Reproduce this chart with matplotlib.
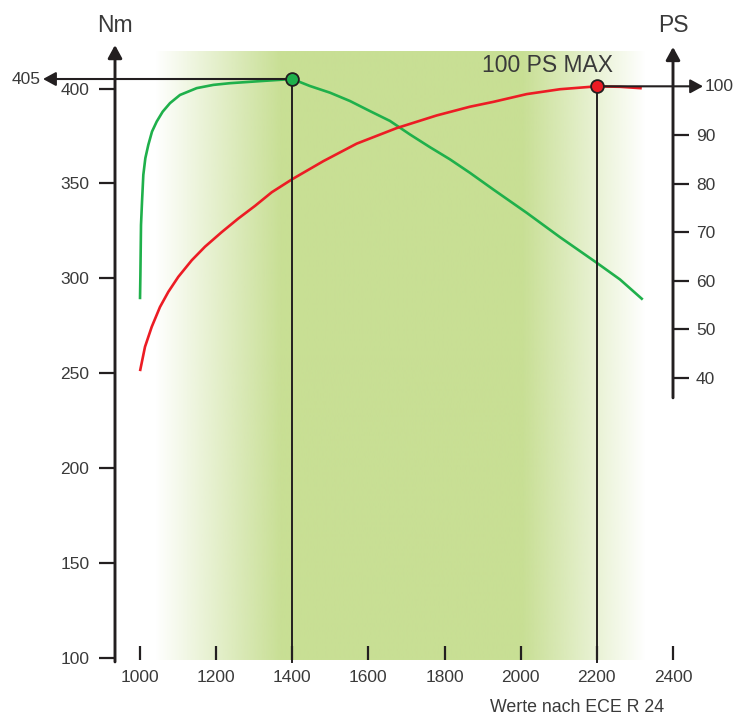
import numpy as np
import matplotlib.pyplot as plt
from matplotlib.colors import to_rgb

# Drehmoment (Nm) ueber Drehzahl
rpm_nm = [1000, 1001, 1002.6, 1005.3, 1008.7, 1014, 1021.8, 1031.5, 1043.9, 1059.6,
          1078.8, 1105, 1149, 1192.6, 1236.4, 1324, 1400, 1446.5, 1499, 1551.6,
          1604, 1656.7, 1709, 1761.5, 1814, 1866.5, 1928, 2015.8, 2103, 2199.6,
          2260.8, 2320.5]
torque = [289, 301.8, 328.1, 340.5, 354.5, 363.3, 370.3, 377.3, 382.6, 387.8,
          392.3, 396.6, 400.2, 401.9, 402.8, 404, 405, 401.3, 397.8, 393.4,
          388.1, 382.9, 375.8, 369.1, 362.7, 355.6, 346.8, 334.5, 321.7, 308.2,
          299.4, 288.8]

# Leistung (PS) ueber Drehzahl
rpm_ps = [1000, 1013.1, 1030.7, 1052.5, 1074.3, 1100.6, 1135.8, 1170.7, 1214.6,
          1258.2, 1302.1, 1346, 1400, 1481.5, 1569, 1674, 1779, 1866.5, 1928,
          2015.8, 2103, 2200, 2261, 2318]
power = [41.4, 46.4, 50.5, 54.6, 57.7, 60.8, 64.2, 67.0, 70.0, 72.8, 75.4, 78.2,
         80.9, 84.6, 88.2, 91.4, 94.0, 95.8, 96.8, 98.4, 99.4, 100, 99.9, 99.6]

x_ticks = [1000, 1200, 1400, 1600, 1800, 2000, 2200, 2400]
nm_ticks = [100, 150, 200, 250, 300, 350, 400]
ps_ticks = [40, 50, 60, 70, 80, 90]

max_torque = (1400, 405)
max_power = (2200, 100)

plt.rcParams['font.family'] = ['Liberation Sans', 'DejaVu Sans']
txt = '#3a3a3a'
ink = '#231f20'
green = '#1fb04b'
red = '#ec1c24'
band = '#c8df94'

fig = plt.figure(figsize=(7.36, 7.18), dpi=100)
ax = fig.add_axes([115/736, 1-660/718, (673-115)/736, 620/718])
ax2 = ax.twinx()

xlim = (934.3, 2400)
nm_lim = (98.95, 425.55)
ps_lim = (-18.04, 109.53)

# gruener Hintergrund mit weichen Raendern
xs = np.linspace(1039, 2326.5, 600)
alpha = np.interp(xs, [1039, 1370, 2003, 2326.5], [0, 1, 1, 0])
img = np.zeros((1, len(xs), 4))
img[0, :, :3] = to_rgb(band)
img[0, :, 3] = alpha
ax.imshow(img, extent=[1039, 2326.5, 97.9, 419.6], aspect='auto',
          interpolation='bilinear', zorder=0)

# Kurven
ax2.plot(rpm_nm, torque, color=green, lw=1.9, transform=ax.transData, zorder=2,
         solid_capstyle='butt', solid_joinstyle='round')
ax2.plot(rpm_ps, power, color=red, lw=1.9, zorder=2, solid_capstyle='butt',
         solid_joinstyle='round')

# Hilfslinien zu den Maxima
ax2.plot([max_torque[0], max_torque[0]], [nm_lim[0] - 1, max_torque[1]], color=ink,
         lw=1.4, transform=ax.transData, zorder=3, clip_on=False)
ax2.plot([max_power[0], max_power[0]], [ps_lim[0] - 0.4, max_power[1]], color=ink,
         lw=1.4, zorder=3, clip_on=False)
arrow = dict(arrowstyle='-|>,head_length=0.55,head_width=0.3', color=ink, lw=1.5,
             shrinkA=0, shrinkB=0, mutation_scale=14)
ax2.annotate('', xy=(745.2, max_torque[1]), xytext=max_torque,
             xycoords=ax.transData, textcoords=ax.transData,
             arrowprops=arrow, annotation_clip=False, zorder=3)
ax2.annotate('', xy=(2478.9, max_power[1]), xytext=max_power,
             arrowprops=arrow, annotation_clip=False, zorder=3)
ax2.plot(*max_torque, 'o', ms=9.2, mfc=green, mec=ink, mew=1.3,
         transform=ax.transData, zorder=4, clip_on=False)
ax2.plot(*max_power, 'o', ms=9.2, mfc=red, mec=ink, mew=1.3, zorder=4, clip_on=False)

# Achsen mit Pfeilen
axis_arrow = dict(arrow, lw=2.1)
ax2.annotate('', xy=(xlim[0], 422.9), xytext=(xlim[0], nm_lim[0] - 1),
             xycoords=ax.transData, textcoords=ax.transData,
             arrowprops=axis_arrow, annotation_clip=False, zorder=3)
ax2.annotate('', xy=(2400, 108.1), xytext=(2400, 35.9),
             arrowprops=axis_arrow, annotation_clip=False, zorder=3)

for a in (ax, ax2):
    for s in a.spines.values():
        s.set_visible(False)

ax.set_xlim(*xlim)
ax.set_ylim(*nm_lim)
ax2.set_ylim(*ps_lim)
ax.set_xticks(x_ticks)
ax.set_yticks(nm_ticks)
ax2.set_yticks(ps_ticks)
ax.tick_params(axis='x', direction='in', length=10, width=1.6, color=ink, pad=7,
               labelsize=12.5, labelcolor=txt)
ax.tick_params(axis='y', direction='out', length=11.5, width=1.6, color=ink, pad=7,
               labelsize=12.5, labelcolor=txt)
ax2.tick_params(axis='y', direction='out', length=11.5, width=1.6, color=ink, pad=5,
                labelsize=12.5, labelcolor=txt)

# Beschriftungen
ax.text(740, max_torque[1], '405', ha='right', va='center', fontsize=12.5,
        color=txt, clip_on=False)
ax2.text(2484, max_power[1], '100', ha='left', va='center', fontsize=12.5,
         color=txt, clip_on=False)
fig.text(115/736, 1-32/718, 'Nm', ha='center', va='baseline', fontsize=16.5, color=txt)
fig.text(673/736, 1-32/718, 'PS', ha='center', va='baseline', fontsize=16.5, color=txt)
fig.text(548/736, 1-71.5/718, '100 PS MAX', ha='center', va='baseline', fontsize=16.5,
         color=txt)
fig.text(577/736, 1-712/718, 'Werte nach ECE R 24', ha='center', va='baseline',
         fontsize=12.8, color=txt)

fig.savefig('out.png', dpi=100)
